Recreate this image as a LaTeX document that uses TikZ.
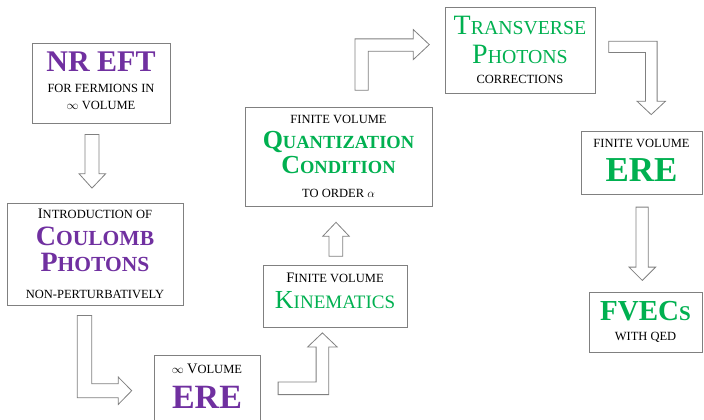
\documentclass[tikz,border=0pt]{standalone}
\usepackage{fontspec}
\setmainfont{Liberation Serif}
\usetikzlibrary{calc}
\definecolor{purp}{RGB}{112,48,160}
\definecolor{grn}{RGB}{0,176,80}
\definecolor{edgegray}{RGB}{128,128,128}
\newcommand{\fs}[1]{\fontsize{#1}{0}\selectfont}
\newcommand{\boxfont}{\fs{12.5}\lineskiplimit=-1000pt\lineskip=0pt}

\begin{document}
\begin{tikzpicture}[x=1pt, y=-1pt,
  box/.style={draw=edgegray, line width=0.8pt, align=center, inner sep=0pt, font=\boxfont},
  blk/.style={draw=edgegray, fill=white, line width=0.8pt, line join=miter}]
\useasboundingbox (0,0) rectangle (704,420);
% boxes
\node[box, minimum width=138, minimum height=80] (nreft) at (101,83)
  {{\color{purp}\bfseries\fs{30}NR EFT}\\[21pt]
   FOR FERMIONS IN\\[17pt]
   $\infty$ VOLUME\rule[-4pt]{0pt}{0pt}};
\node[box, minimum width=176, minimum height=102] (coul) at (95,254)
  {{\fs{14.5}I}NTRODUCTION OF\\[27.3pt]
   {\color{purp}\bfseries{\fs{28}C}{\fs{21.5}OULOMB}}\\[26pt]
   {\color{purp}\bfseries{\fs{28}P}{\fs{21.5}HOTONS}}\\[26.7pt]
   NON-PERTURBATIVELY};
\node[box, minimum width=106, minimum height=80] (ereinf) at (207,395)
  {$\infty$ {\fs{14.5}V}OLUME\\[35pt]
   {\color{purp}\bfseries\fs{34}ERE}\rule[-18pt]{0pt}{0pt}};
\node[box, minimum width=144, minimum height=62] (kin) at (335,296)
  {{\fs{14.5}F}INITE VOLUME\\[25.6pt]
   {\color{grn}{\fs{26}K}{\fs{19}INEMATICS}}\rule[-11pt]{0pt}{0pt}};
\node[box, minimum width=187, minimum height=99] (quant) at (338.5,156.5)
  {FINITE VOLUME\\[25pt]
   {\color{grn}\bfseries{\fs{26}Q}{\fs{18.5}UANTIZATION}}\\[25pt]
   {\color{grn}\bfseries{\fs{26}C}{\fs{18.5}ONDITION}}\\[23.3pt]
   TO ORDER $\alpha$};
\node[box, minimum width=150, minimum height=86] (trans) at (520,50)
  {{\color{grn}{\fs{28}T}{\fs{19.8}RANSVERSE}}\\[28.3pt]
   {\color{grn}{\fs{28}P}{\fs{19.8}HOTONS}}\\[20pt]
   CORRECTIONS};
\node[box, minimum width=121, minimum height=63] (erefin) at (641.5,162.5)
  {FINITE VOLUME\\[34.4pt]
   {\color{grn}\bfseries\fs{35}ERE}\rule[-4pt]{0pt}{0pt}};
\node[box, minimum width=113, minimum height=60] (fvec) at (645.5,322)
  {{\color{grn}\bfseries{\fs{29}FVEC}{\fs{21}S}}\\[20pt]
   WITH QED};
% block arrows
\draw[blk] ($(nreft.south)+(-16,11)$) -- ++(0,39.3) -- ++(-6,0) -- ++(13,14.4)
  -- ++(13.7,-14.4) -- ++(-6.7,0) -- ++(0,-39.3) -- cycle;
\draw[blk] ($(coul.south)+(-17.7,10)$) -- ++(0,82.3) -- ++(41,0) -- ++(0,6.7)
  -- ++(13.4,-13.7) -- ++(-13.4,-13.6) -- ++(0,6.6) -- ++(-26.6,0) -- ++(0,-68.3) -- cycle;
\draw[blk] ($(ereinf.north east)+(17.7,27.3)$) -- ++(0,12.7) -- ++(50.6,0) -- ++(0,-47.7)
  -- ++(8.4,0) -- ++(-14.7,-14) -- ++(-14.7,14) -- ++(8.4,0) -- ++(0,35) -- cycle;
\draw[blk] ($(kin.north)+(-6,-8.3)$) -- ++(0,-20) -- ++(-6.3,0) -- ++(13.3,-14)
  -- ++(13.3,14) -- ++(-6.6,0) -- ++(0,20) -- cycle;
\draw[blk] ($(quant.north)+(16.5,-16.3)$) -- ++(0,-51.4) -- ++(58.3,0) -- ++(0,-9.3)
  -- ++(16,15) -- ++(-16,15) -- ++(0,-8.3) -- ++(-45,0) -- ++(0,39) -- cycle;
\draw[blk] ($(trans.north east)+(13.3,34.7)$) -- ++(48.4,0) -- ++(0,60) -- ++(8.3,0)
  -- ++(-14.2,13.3) -- ++(-14.1,-13.3) -- ++(8.3,0) -- ++(0,-48.7) -- ++(-36.7,0) -- cycle;
\draw[blk] ($(erefin.south)+(-5.5,12.7)$) -- ++(0,60) -- ++(-7,0) -- ++(13.3,13.3)
  -- ++(13.4,-13.3) -- ++(-7.4,0) -- ++(0,-60) -- cycle;
\end{tikzpicture}
\end{document}
